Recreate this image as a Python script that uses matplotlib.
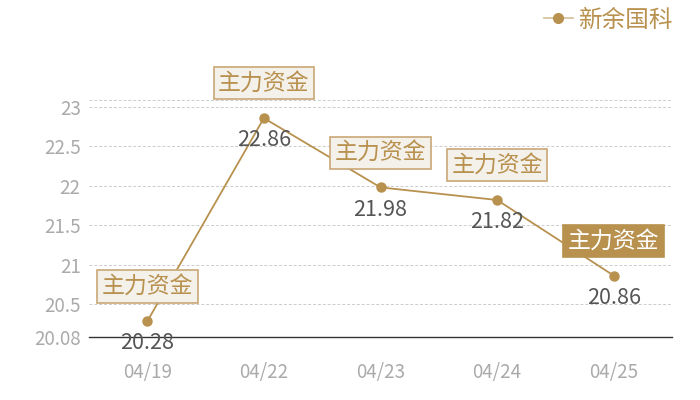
import matplotlib
matplotlib.use("Agg")
import matplotlib.pyplot as plt
from matplotlib.lines import Line2D

plt.rcParams['font.family'] = ['Noto Sans CJK SC', 'DejaVu Sans']

dates = ["04/19", "04/22", "04/23", "04/24", "04/25"]
values = [20.28, 22.86, 21.98, 21.82, 20.86]
series_name = "新余国科"
note_text = "主力资金"
highlight_index = 4
ytick_values = [20.08, 20.5, 21, 21.5, 22, 22.5, 23, 23.09]
ytick_labels = ["20.08", "20.5", "21", "21.5", "22", "22.5", "23", ""]

gold = "#b8914f"
box_face = "#f4f0ea"
box_edge = "#c9a775"

fig = plt.figure(figsize=(7, 4), dpi=100)
ax = fig.add_axes([89/700, 63/400, (672-89)/700, (337-100)/400])

x = list(range(len(dates)))
ax.plot(x, values, color=gold, lw=1.3, marker='o', ms=6.5, zorder=3)

ax.set_xlim(-0.5, len(dates) - 0.5)
ax.set_ylim(ytick_values[0], ytick_values[-1])
ax.set_xticks(x)
ax.set_xticklabels(dates)
ax.set_yticks(ytick_values)
ax.set_yticklabels(ytick_labels)
ax.tick_params(axis='both', length=0, colors="#aaaaaa", labelsize=13.5)
ax.tick_params(axis='x', pad=18)
ax.tick_params(axis='y', pad=6)
ax.grid(axis='y', color="#cccccc", ls=(0, (3, 2)), lw=0.7)
for s in ['top', 'right', 'left']:
    ax.spines[s].set_visible(False)
ax.spines['bottom'].set_color("#333333")
ax.spines['bottom'].set_linewidth(1.0)
ax.set_axisbelow(True)

for i, v in enumerate(values):
    ax.annotate(f"{v:.2f}", (i, v), xytext=(0, -16), textcoords='offset points',
                ha='center', va='center', fontsize=15.5, color="#555555", zorder=5)
    if i == highlight_index:
        fc, ec, tc = gold, gold, "white"
    else:
        fc, ec, tc = box_face, box_edge, gold
    ax.annotate(note_text, (i, v), xytext=(0, 25), textcoords='offset points',
                ha='center', va='center', fontsize=16.5, color=tc, zorder=6,
                bbox=dict(boxstyle='square,pad=0.2', fc=fc, ec=ec, lw=1.2))

handle = Line2D([], [], color="#d9c4a0", lw=1.3, marker='o', ms=7,
                markerfacecolor=gold, markeredgecolor=gold)
fig.legend([handle], [series_name], loc='upper right', bbox_to_anchor=(0.985, 1.02),
           frameon=False, fontsize=17, labelcolor=gold, handlelength=1.2,
           handletextpad=0.25, borderpad=0.2)

fig.savefig("out.png", dpi=100)
